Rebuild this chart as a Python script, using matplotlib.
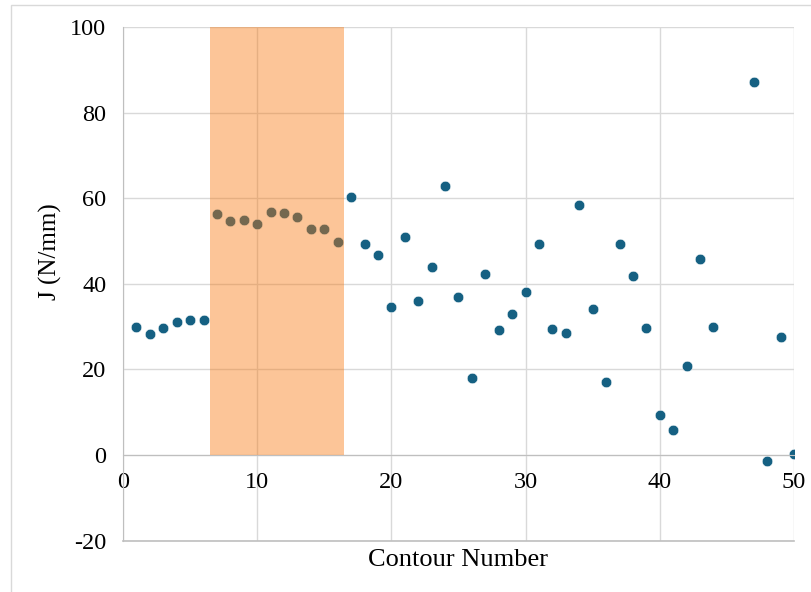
import numpy as np
import matplotlib
matplotlib.use('Agg')
import matplotlib.pyplot as plt
from matplotlib.patches import Rectangle

# contour numbers (45 and 46 have no value)
contour = [1, 2, 3, 4, 5, 6, 7, 8, 9, 10,
           11, 12, 13, 14, 15, 16, 17, 18, 19, 20,
           21, 22, 23, 24, 25, 26, 27, 28, 29, 30,
           31, 32, 33, 34, 35, 36, 37, 38, 39, 40,
           41, 42, 43, 44, 47, 48, 49, 50]
j_values = [29.9, 28.2, 29.7, 31.0, 31.5, 31.5, 56.3, 54.6, 54.9, 54.0,
            56.8, 56.5, 55.6, 52.9, 52.7, 49.8, 60.3, 49.3, 46.8, 34.5,
            51.0, 36.0, 44.0, 62.9, 36.8, 17.9, 42.4, 29.3, 32.9, 38.2,
            49.4, 29.5, 28.6, 58.3, 34.2, 17.0, 49.3, 41.9, 29.7, 9.3,
            5.9, 20.8, 45.7, 29.9, 87.1, -1.5, 27.5, 0.2]
highlight = (6.5, 16.5)

plt.rcParams['font.family'] = ['Liberation Serif', 'DejaVu Serif']
plt.rcParams['axes.unicode_minus'] = False

fig = plt.figure(figsize=(8.12, 5.92), dpi=100)
ax = fig.add_axes([123/812, 1 - 540.6/592, 671/812, 513.6/592])

ax.scatter(contour, j_values, s=7.6**2, color='#156082', edgecolor='white',
           linewidth=0.4, zorder=2)
ax.axvspan(highlight[0], highlight[1], ymin=20/120, ymax=1,
           color='#F8750A', alpha=0.42, lw=0, zorder=3)

ax.set_xlim(0, 50)
ax.set_ylim(-20, 100)
ax.set_xticks(np.arange(0, 51, 10))
ax.set_yticks(np.arange(-20, 101, 20))
ax.grid(True, color='#D9D9D9', lw=1.0, zorder=0)
ax.set_axisbelow(True)
ax.tick_params(length=0, labelsize=17.5, colors='#000000')
ax.tick_params(axis='x', pad=12)
ax.tick_params(axis='y', pad=12)

for s in ['top', 'right']:
    ax.spines[s].set_visible(False)
ax.spines['bottom'].set_position(('data', 0))
ax.spines['bottom'].set_color('#BFBFBF')
ax.spines['left'].set_color('#BFBFBF')
ax.axhline(-20, color='#BFBFBF', lw=1.2, clip_on=False, zorder=1)

ax.set_xlabel('Contour Number', fontsize=19)
ax.xaxis.set_label_coords(0.5, (540.6 - 560) / 513.6)
ax.xaxis.label.set_va('center')
ax.set_ylabel('J (N/mm)', fontsize=18)
ax.yaxis.set_label_coords((50 - 123) / 671, (540.6 - 252) / 513.6)
ax.yaxis.label.set_va('center')

fig.patches.append(Rectangle((11/812, -0.05), 1.0, 1 - 5/592 + 0.05,
                             transform=fig.transFigure, fill=False,
                             edgecolor='#D9D9D9', lw=1.0))

fig.savefig('out.png', dpi=100)
